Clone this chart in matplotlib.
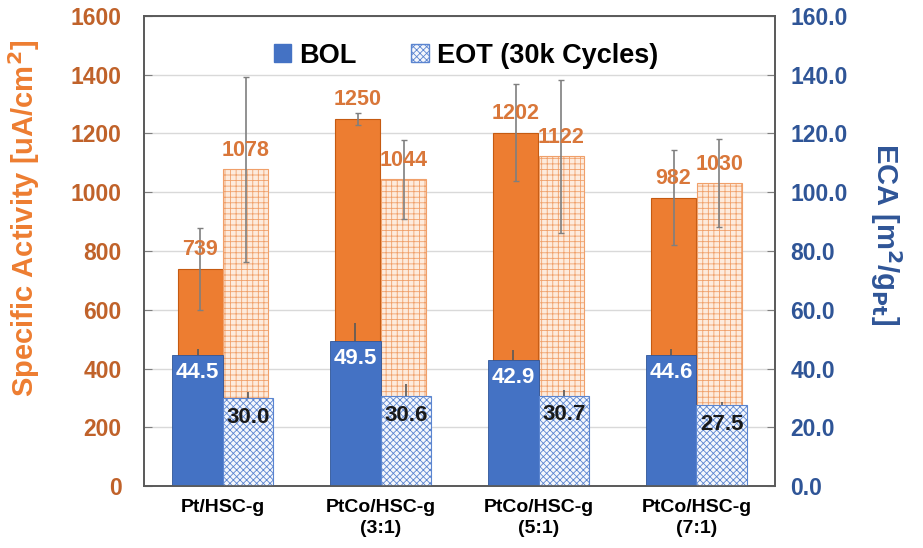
import numpy as np
import matplotlib.pyplot as plt
from matplotlib.patches import Patch

plt.rcParams['font.family'] = ['Liberation Sans', 'DejaVu Sans']
plt.rcParams['font.weight'] = 'bold'
plt.rcParams['hatch.linewidth'] = 0.6

categories = ['Pt/HSC-g', 'PtCo/HSC-g\n(3:1)', 'PtCo/HSC-g\n(5:1)', 'PtCo/HSC-g\n(7:1)']
sa_bol = [739, 1250, 1202, 982]
sa_eot = [1078, 1044, 1122, 1030]
sa_bol_err = [140, 20, 165, 160]
sa_eot_err = [315, 135, 260, 150]
eca_bol = [44.5, 49.5, 42.9, 44.6]
eca_eot = [30.0, 30.6, 30.7, 27.5]
eca_bol_err = [2.0, 6.0, 3.5, 2.0]
eca_eot_err = [2.0, 4.0, 2.0, 1.0]

orange = '#ED7D31'
orange_txt = '#D9773A'
orange_tick = '#C0622A'
blue = '#4472C4'
blue_txt = '#2F5597'

fig = plt.figure(figsize=(9.23, 5.48), dpi=100)
ax = fig.add_axes([0.156, 0.113, 0.684, 0.858])
ax2 = ax.twinx()

x = np.arange(len(categories))
wo = 0.285
wb = 0.32

# specific activity (left axis)
ax.bar(x - 0.145, sa_bol, wo, color=orange, edgecolor='#C55A11', linewidth=0.8, zorder=2)
ax.bar(x + 0.145, sa_eot, wo, color='#FDEBDD', edgecolor='#F0A06A', hatch='+++',
       linewidth=0.8, zorder=2)
ax.errorbar(x - 0.145, sa_bol, yerr=sa_bol_err, fmt='none', ecolor='#7F7F7F',
            elinewidth=1.2, capsize=2, zorder=3)
ax.errorbar(x + 0.145, sa_eot, yerr=sa_eot_err, fmt='none', ecolor='#7F7F7F',
            elinewidth=1.2, capsize=2, zorder=3)
for xi, v in zip(x - 0.145, sa_bol):
    ax.text(xi, v + 65, str(v), ha='center', va='center', color=orange_txt,
            fontsize=15.5, fontweight='bold', zorder=4)
for xi, v in zip(x + 0.145, sa_eot):
    ax.text(xi, v + 65, str(v), ha='center', va='center', color=orange_txt,
            fontsize=15.5, fontweight='bold', zorder=4)

ax.set_xlim(-0.5, 3.5)
ax.set_ylim(0, 1600)
ax.set_yticks(np.arange(0, 1601, 200))
ax.yaxis.grid(True, color='#D9D9D9', linewidth=1)
ax.set_axisbelow(True)
ax.set_xticks(x)
ax.set_xticklabels(categories, fontsize=14, fontweight='bold', linespacing=1.35)
ax.tick_params(axis='x', length=0, pad=9)
ax.tick_params(axis='y', direction='in', length=6, colors='#7F7F7F',
               labelcolor=orange_tick, labelsize=16.5, pad=16)
ax.set_ylabel('Specific Activity [uA/cm$^\\mathbf{2}$]', color=orange, fontsize=21,
              fontweight='bold', va='center')
ax.yaxis.set_label_coords(-0.19, 0.57)

# ECA (right axis)
ax2.bar(x - 0.16, eca_bol, wb, color=blue, edgecolor='#2F5597', linewidth=0.6, zorder=2)
ax2.bar(x + 0.16, eca_eot, wb, color='#F4F7FC', edgecolor='#5B85D0', hatch='xxxxx',
        linewidth=0.8, zorder=2)
ax2.errorbar(x - 0.16, eca_bol, yerr=[[0] * 4, eca_bol_err], fmt='none', ecolor='#595959',
             elinewidth=1.2, capsize=0, zorder=3)
ax2.errorbar(x + 0.16, eca_eot, yerr=[[0] * 4, eca_eot_err], fmt='none', ecolor='#595959',
             elinewidth=1.2, capsize=0, zorder=3)
for xi, v in zip(x - 0.16, eca_bol):
    ax2.text(xi, v - 6, f'{v:.1f}', ha='center', va='center', color='white',
             fontsize=16, fontweight='bold', zorder=4)
for xi, v in zip(x + 0.16, eca_eot):
    ax2.text(xi, v - 6.5, f'{v:.1f}', ha='center', va='center', color='#1a1a1a',
             fontsize=16, fontweight='bold', zorder=4)

ax2.set_ylim(0, 160)
ax2.set_yticks(np.arange(0, 161, 20))
ax2.set_yticklabels([f'{t:.1f}' for t in np.arange(0, 161, 20)])
ax2.tick_params(axis='y', direction='in', length=6, colors='#7F7F7F',
                labelcolor=blue_txt, labelsize=16.5, pad=11)
ax2.set_ylabel('ECA [m$^\\mathbf{2}$/g$_{\\mathbf{Pt}}$]', color=blue_txt, fontsize=21,
               fontweight='bold', rotation=270, va='center')
ax2.yaxis.set_label_coords(1.175, 0.535)

for a in (ax, ax2):
    for s in a.spines.values():
        s.set_color('#595959')
        s.set_linewidth(1.2)

handles = [Patch(facecolor=blue, edgecolor=blue, label='BOL'),
           Patch(facecolor='#F4F7FC', edgecolor='#5B85D0', hatch='xxxxx',
                 label='EOT (30k Cycles)')]
ax2.legend(handles=handles, loc='upper center', bbox_to_anchor=(0.51, 0.995), ncol=2,
           frameon=False, handlelength=0.65, handleheight=0.65,
           handletextpad=0.3, columnspacing=2.0, prop={'weight': 'bold', 'size': 19.5})

fig.savefig('out.png', dpi=100)
